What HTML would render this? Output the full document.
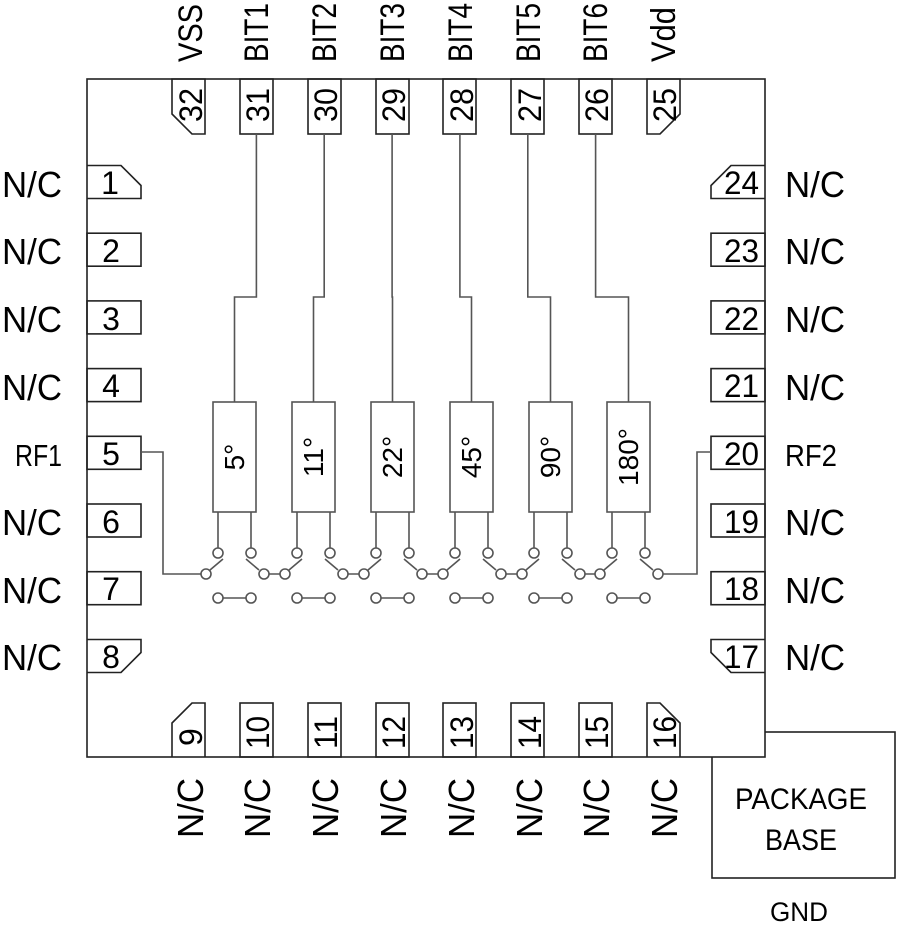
<!DOCTYPE html>
<html><head><meta charset="utf-8"><style>
html,body{margin:0;padding:0;background:#fff;}
svg{display:block;}
text{font-family:"Liberation Sans",sans-serif;fill:#000;}
</style></head><body>
<svg width="900" height="925" viewBox="0 0 900 925" xmlns="http://www.w3.org/2000/svg">
<g fill="none" stroke="#222" stroke-width="1.6">
<rect x="712" y="732" width="183" height="146"/>
<rect x="87" y="79" width="678" height="678" fill="#fff"/>
<path d="M172,79 H205 V134 H192 L172,114 Z"/>
<rect x="240" y="79" width="33" height="55"/>
<rect x="308" y="79" width="33" height="55"/>
<rect x="376" y="79" width="33" height="55"/>
<rect x="443" y="79" width="33" height="55"/>
<rect x="511" y="79" width="33" height="55"/>
<rect x="579" y="79" width="33" height="55"/>
<path d="M647,79 H680 V114 L660,134 H647 Z"/>
<path d="M172,757 V723 L192,703 H205 V757"/>
<rect x="240" y="703" width="33" height="54"/>
<rect x="308" y="703" width="33" height="54"/>
<rect x="376" y="703" width="33" height="54"/>
<rect x="443" y="703" width="33" height="54"/>
<rect x="511" y="703" width="33" height="54"/>
<rect x="579" y="703" width="33" height="54"/>
<path d="M647,757 V703 H660 L680,723 V757"/>
<path d="M87,165.5 H121 L141,185.5 V198.5 H87"/>
<rect x="87" y="233.2" width="54" height="33"/>
<rect x="87" y="300.9" width="54" height="33"/>
<rect x="87" y="368.6" width="54" height="33"/>
<rect x="87" y="436.3" width="54" height="33"/>
<rect x="87" y="504" width="54" height="33"/>
<rect x="87" y="571.7" width="54" height="33"/>
<path d="M87,639.5 H141 V652.5 L121,672.5 H87"/>
<path d="M765,165.5 H731 L711,185.5 V198.5 H765"/>
<rect x="711" y="233.2" width="54" height="33"/>
<rect x="711" y="300.9" width="54" height="33"/>
<rect x="711" y="368.6" width="54" height="33"/>
<rect x="711" y="436.3" width="54" height="33"/>
<rect x="711" y="504" width="54" height="33"/>
<rect x="711" y="571.7" width="54" height="33"/>
<path d="M765,639.5 H711 V652.5 L731,672.5 H765"/>
</g>
<g fill="none" stroke="#555" stroke-width="1.6">
<path d="M256.4,134 V297 H234.5 V402"/>
<path d="M324.2,134 V297 H313.5 V402"/>
<path d="M392.1,134 V297 H392.5 V402"/>
<path d="M459.9,134 V297 H471.5 V402"/>
<path d="M527.8,134 V297 H550.5 V402"/>
<path d="M595.6,134 V297 H628.5 V402"/>
<rect x="213" y="402" width="43" height="110"/>
<rect x="292" y="402" width="43" height="110"/>
<rect x="371" y="402" width="43" height="110"/>
<rect x="450" y="402" width="43" height="110"/>
<rect x="529" y="402" width="43" height="110"/>
<rect x="607" y="402" width="43" height="110"/>
<path d="M141,452 H163 V574 H201"/>
<path d="M711,452 H697 V574 H663"/>
</g>
<g fill="#fff" stroke="#555" stroke-width="1.6">
<path d="M218,512V548M251,512V548M223,598H246M210,570L223,559M259,570L246,559M268,574H280"/>
<circle cx="218" cy="553" r="5"/><circle cx="251" cy="553" r="5"/><circle cx="218" cy="598" r="5"/><circle cx="251" cy="598" r="5"/><circle cx="206" cy="574" r="5"/><circle cx="264" cy="574" r="5"/>
<path d="M297,512V548M330,512V548M302,598H325M289,570L302,559M338,570L325,559M347,574H359"/>
<circle cx="297" cy="553" r="5"/><circle cx="330" cy="553" r="5"/><circle cx="297" cy="598" r="5"/><circle cx="330" cy="598" r="5"/><circle cx="285" cy="574" r="5"/><circle cx="343" cy="574" r="5"/>
<path d="M376,512V548M409,512V548M381,598H404M368,570L381,559M417,570L404,559M426,574H438"/>
<circle cx="376" cy="553" r="5"/><circle cx="409" cy="553" r="5"/><circle cx="376" cy="598" r="5"/><circle cx="409" cy="598" r="5"/><circle cx="364" cy="574" r="5"/><circle cx="422" cy="574" r="5"/>
<path d="M455,512V548M488,512V548M460,598H483M447,570L460,559M496,570L483,559M505,574H517"/>
<circle cx="455" cy="553" r="5"/><circle cx="488" cy="553" r="5"/><circle cx="455" cy="598" r="5"/><circle cx="488" cy="598" r="5"/><circle cx="443" cy="574" r="5"/><circle cx="501" cy="574" r="5"/>
<path d="M534,512V548M567,512V548M539,598H562M526,570L539,559M575,570L562,559M584,574H595"/>
<circle cx="534" cy="553" r="5"/><circle cx="567" cy="553" r="5"/><circle cx="534" cy="598" r="5"/><circle cx="567" cy="598" r="5"/><circle cx="522" cy="574" r="5"/><circle cx="580" cy="574" r="5"/>
<path d="M612,512V548M645,512V548M617,598H640M604,570L617,559M653,570L640,559"/>
<circle cx="612" cy="553" r="5"/><circle cx="645" cy="553" r="5"/><circle cx="612" cy="598" r="5"/><circle cx="645" cy="598" r="5"/><circle cx="600" cy="574" r="5"/><circle cx="658" cy="574" r="5"/>
</g>
<g font-size="28" text-anchor="middle">
<text transform="translate(244,457) rotate(-90)">5°</text>
<text transform="translate(323,457) rotate(-90)">11°</text>
<text transform="translate(402,457) rotate(-90)">22°</text>
<text transform="translate(481,457) rotate(-90)">45°</text>
<text transform="translate(560,457) rotate(-90)">90°</text>
<text transform="translate(638,457) rotate(-90)">180°</text>
</g>
<g font-size="34">
<text transform="translate(202,62) rotate(-90)" textLength="58" lengthAdjust="spacingAndGlyphs">VSS</text>
<text transform="translate(268,62) rotate(-90)" textLength="59" lengthAdjust="spacingAndGlyphs">BIT1</text>
<text transform="translate(336,62) rotate(-90)" textLength="59" lengthAdjust="spacingAndGlyphs">BIT2</text>
<text transform="translate(404,62) rotate(-90)" textLength="59" lengthAdjust="spacingAndGlyphs">BIT3</text>
<text transform="translate(472,62) rotate(-90)" textLength="59" lengthAdjust="spacingAndGlyphs">BIT4</text>
<text transform="translate(540,62) rotate(-90)" textLength="59" lengthAdjust="spacingAndGlyphs">BIT5</text>
<text transform="translate(607,62) rotate(-90)" textLength="59" lengthAdjust="spacingAndGlyphs">BIT6</text>
<text transform="translate(675,62) rotate(-90)" textLength="55" lengthAdjust="spacingAndGlyphs">Vdd</text>
</g>
<g font-size="32">
<text transform="translate(202,122) rotate(-90)" textLength="34" lengthAdjust="spacingAndGlyphs">32</text>
<text transform="translate(269,122) rotate(-90)" textLength="34" lengthAdjust="spacingAndGlyphs">31</text>
<text transform="translate(337,122) rotate(-90)" textLength="34" lengthAdjust="spacingAndGlyphs">30</text>
<text transform="translate(405,122) rotate(-90)" textLength="34" lengthAdjust="spacingAndGlyphs">29</text>
<text transform="translate(473,122) rotate(-90)" textLength="34" lengthAdjust="spacingAndGlyphs">28</text>
<text transform="translate(541,122) rotate(-90)" textLength="34" lengthAdjust="spacingAndGlyphs">27</text>
<text transform="translate(608,122) rotate(-90)" textLength="34" lengthAdjust="spacingAndGlyphs">26</text>
<text transform="translate(676,122) rotate(-90)" textLength="34" lengthAdjust="spacingAndGlyphs">25</text>
</g>
<g font-size="32">
<text transform="translate(202,746) rotate(-90)">9</text>
<text transform="translate(269,749) rotate(-90)" textLength="33" lengthAdjust="spacingAndGlyphs">10</text>
<text transform="translate(337,749) rotate(-90)" textLength="33" lengthAdjust="spacingAndGlyphs">11</text>
<text transform="translate(405,749) rotate(-90)" textLength="33" lengthAdjust="spacingAndGlyphs">12</text>
<text transform="translate(473,749) rotate(-90)" textLength="33" lengthAdjust="spacingAndGlyphs">13</text>
<text transform="translate(541,749) rotate(-90)" textLength="33" lengthAdjust="spacingAndGlyphs">14</text>
<text transform="translate(608,749) rotate(-90)" textLength="33" lengthAdjust="spacingAndGlyphs">15</text>
<text transform="translate(676,749) rotate(-90)" textLength="33" lengthAdjust="spacingAndGlyphs">16</text>
</g>
<g font-size="36">
<text transform="translate(203,838) rotate(-90)" textLength="60" lengthAdjust="spacingAndGlyphs">N/C</text>
<text transform="translate(270,838) rotate(-90)" textLength="60" lengthAdjust="spacingAndGlyphs">N/C</text>
<text transform="translate(338,838) rotate(-90)" textLength="60" lengthAdjust="spacingAndGlyphs">N/C</text>
<text transform="translate(406,838) rotate(-90)" textLength="60" lengthAdjust="spacingAndGlyphs">N/C</text>
<text transform="translate(474,838) rotate(-90)" textLength="60" lengthAdjust="spacingAndGlyphs">N/C</text>
<text transform="translate(542,838) rotate(-90)" textLength="60" lengthAdjust="spacingAndGlyphs">N/C</text>
<text transform="translate(609,838) rotate(-90)" textLength="60" lengthAdjust="spacingAndGlyphs">N/C</text>
<text transform="translate(677,838) rotate(-90)" textLength="60" lengthAdjust="spacingAndGlyphs">N/C</text>
</g>
<g font-size="36">
<text x="2" y="197" textLength="60" lengthAdjust="spacingAndGlyphs">N/C</text>
<text x="2" y="264" textLength="60" lengthAdjust="spacingAndGlyphs">N/C</text>
<text x="2" y="332" textLength="60" lengthAdjust="spacingAndGlyphs">N/C</text>
<text x="2" y="400" textLength="60" lengthAdjust="spacingAndGlyphs">N/C</text>
<text x="15" y="466" font-size="31" textLength="47" lengthAdjust="spacingAndGlyphs">RF1</text>
<text x="2" y="535" textLength="60" lengthAdjust="spacingAndGlyphs">N/C</text>
<text x="2" y="603" textLength="60" lengthAdjust="spacingAndGlyphs">N/C</text>
<text x="2" y="670" textLength="60" lengthAdjust="spacingAndGlyphs">N/C</text>
</g>
<g font-size="32" text-anchor="middle">
<text x="110" y="194">1</text>
<text x="111" y="262">2</text>
<text x="111" y="330">3</text>
<text x="111" y="397">4</text>
<text x="111" y="465">5</text>
<text x="111" y="533">6</text>
<text x="111" y="600">7</text>
<text x="111" y="668">8</text>
</g>
<g font-size="32">
<text x="724" y="194" textLength="35" lengthAdjust="spacingAndGlyphs">24</text>
<text x="724" y="262" textLength="35" lengthAdjust="spacingAndGlyphs">23</text>
<text x="724" y="330" textLength="35" lengthAdjust="spacingAndGlyphs">22</text>
<text x="724" y="397" textLength="35" lengthAdjust="spacingAndGlyphs">21</text>
<text x="724" y="465" textLength="35" lengthAdjust="spacingAndGlyphs">20</text>
<text x="724" y="533" textLength="35" lengthAdjust="spacingAndGlyphs">19</text>
<text x="724" y="600" textLength="35" lengthAdjust="spacingAndGlyphs">18</text>
<text x="724" y="668" textLength="35" lengthAdjust="spacingAndGlyphs">17</text>
</g>
<g font-size="36">
<text x="785" y="197" textLength="60" lengthAdjust="spacingAndGlyphs">N/C</text>
<text x="785" y="264" textLength="60" lengthAdjust="spacingAndGlyphs">N/C</text>
<text x="785" y="332" textLength="60" lengthAdjust="spacingAndGlyphs">N/C</text>
<text x="785" y="400" textLength="60" lengthAdjust="spacingAndGlyphs">N/C</text>
<text x="785" y="466" font-size="31" textLength="52" lengthAdjust="spacingAndGlyphs">RF2</text>
<text x="785" y="535" textLength="60" lengthAdjust="spacingAndGlyphs">N/C</text>
<text x="785" y="603" textLength="60" lengthAdjust="spacingAndGlyphs">N/C</text>
<text x="785" y="670" textLength="60" lengthAdjust="spacingAndGlyphs">N/C</text>
</g>
<g font-size="30" text-anchor="middle">
<text x="801" y="809" textLength="132" lengthAdjust="spacingAndGlyphs">PACKAGE</text>
<text x="801" y="850" textLength="72" lengthAdjust="spacingAndGlyphs">BASE</text>
<text x="799" y="921" font-size="27" textLength="58" lengthAdjust="spacingAndGlyphs">GND</text>
</g>
</svg>
</body></html>
